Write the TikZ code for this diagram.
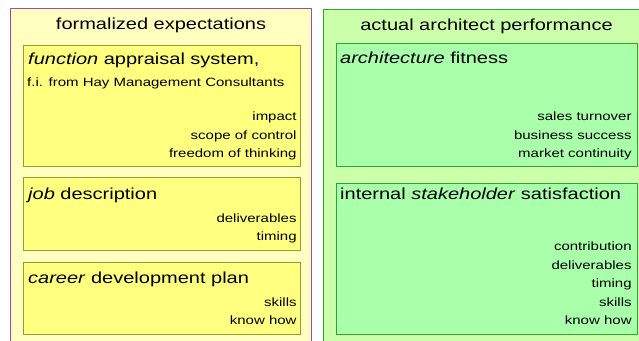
\documentclass[tikz,border=0pt]{standalone}
\usepackage{fontspec}
\setmainfont{Liberation Sans}[FakeStretch=1.25]
\usetikzlibrary{positioning}

\definecolor{paleyellow}{HTML}{FFFFC0}
\definecolor{cardyellow}{HTML}{FFFF80}
\definecolor{olive}{HTML}{999933}
\definecolor{plum}{HTML}{A64CA6}
\definecolor{palegreen}{HTML}{CCFFAA}
\definecolor{cardgreen}{HTML}{AAFFAA}
\definecolor{leaf}{HTML}{33A033}

\begin{document}
\begin{tikzpicture}[x=1pt, y=-1pt,
      outer/.style={draw, line width=1pt, anchor=north west, inner sep=0pt},
      card/.style={draw, line width=0.8pt, anchor=north west, inner sep=0pt},
      head/.style={font=\fontsize{16}{19}\selectfont, anchor=base, inner sep=0pt},
      ttl/.style={font=\fontsize{16}{19}\selectfont, anchor=base west, inner sep=0pt},
      note/.style={font=\fontsize{12}{14}\selectfont, anchor=base west, inner sep=0pt},
      items/.style={font=\fontsize{12}{18.5}\selectfont, align=right, anchor=south east, inner sep=0pt, text depth=0pt},
    ]
    \useasboundingbox (0,0) rectangle (639,340);

    % left column
    \node[outer, draw=plum, fill=paleyellow, minimum width=301pt, minimum height=345pt] (expbox) at (10,8) {};
    \node[head] (exphead) at ([yshift=-21pt]expbox.north) {formalized expectations};

    \node[card, draw=olive, fill=cardyellow, minimum width=277pt, minimum height=121pt] (func) at (23,45) {};
    \node[ttl] (functtl) at ([xshift=5pt, yshift=-19pt]func.north west) {\textit{function} appraisal system,};
    \node[note] (funcnote) at ([xshift=-1pt, yshift=-22pt]functtl.base west) {f.i. from Hay Management Consultants};
    \node[items, above left=9pt and 4pt of func.south east] (funcitems) {impact\\scope of control\\freedom of thinking};

    \node[card, draw=olive, fill=cardyellow, minimum width=277pt, minimum height=73pt] (job) at (23,177) {};
    \node[ttl] (jobttl) at ([xshift=5pt, yshift=-22pt]job.north west) {\textit{job} description};
    \node[items, above left=10pt and 4pt of job.south east] (jobitems) {deliverables\\timing};

    \node[card, draw=olive, fill=cardyellow, minimum width=277pt, minimum height=72pt] (career) at (23,262) {};
    \node[ttl] (careerttl) at ([xshift=5pt, yshift=-21pt]career.north west) {\textit{career} development plan};
    \node[items, above left=10pt and 4pt of career.south east] (careeritems) {skills\\know how};

    % right column
    \node[outer, draw=leaf, fill=palegreen, minimum width=326pt, minimum height=345pt] (perfbox) at (323,9) {};
    \node[head] (perfhead) at ([yshift=-21pt]perfbox.north) {actual architect performance};

    \node[card, draw=leaf, fill=cardgreen, minimum width=301pt, minimum height=123pt] (fit) at (336,43) {};
    \node[ttl] (fitttl) at ([xshift=4pt, yshift=-20pt]fit.north west) {\textit{architecture} fitness};
    \node[items, above left=9pt and 6pt of fit.south east] (fititems) {sales turnover\\business success\\market continuity};

    \node[card, draw=leaf, fill=cardgreen, minimum width=301pt, minimum height=151pt] (stake) at (336,183) {};
    \node[ttl] (stakettl) at ([xshift=4pt, yshift=-16pt]stake.north west) {internal \textit{stakeholder} satisfaction};
    \node[items, above left=10pt and 6pt of stake.south east] (stakeitems) {contribution\\deliverables\\timing\\skills\\know how};
  \end{tikzpicture}
\end{document}
